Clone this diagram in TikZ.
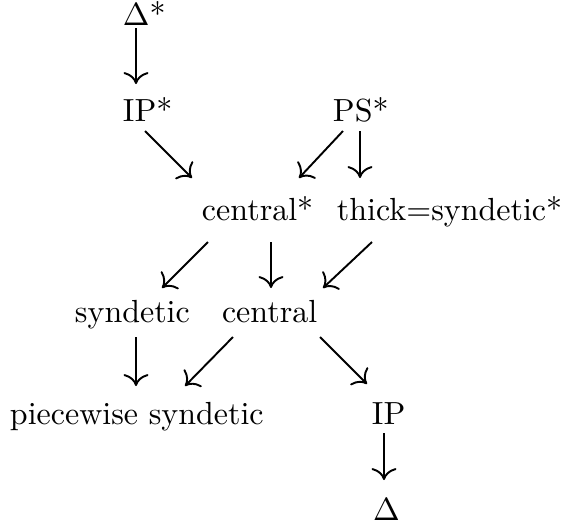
\documentclass[tikz,border=0pt]{standalone}
\usetikzlibrary{calc,cd}
\begin{document}
\begin{tikzpicture}[x=0.3125pt,y=-0.3125pt,
  lbl/.style={anchor=base west,inner sep=0pt,outer sep=0pt},
  arr/.style={-{cm to},line width=0.6pt}]
\useasboundingbox (0,0) rectangle (561,523);
% labels, placed by their baseline
\node[lbl] (dstar)  at (123,25)  {$\Delta$*};
\node[lbl] (ipstar) at (123,121) {IP*};
\node[lbl] (psstar) at (333,121) {PS*};
\node[lbl] (cstar)  at (202,220) {central*};
\node[lbl] (thick)  at (337,220) {thick=syndetic*};
\node[lbl] (synd)   at (75,322)  {syndetic};
\node[lbl] (cent)   at (222,322) {central};
\node[lbl] (pws)    at (10,424)  {piecewise syndetic};
\node[lbl] (ip)     at (372,424) {IP};
\node[lbl] (delta)  at (373,520) {$\Delta$};
% implications
\draw[arr] ($(dstar.base west)+(13,3)$)   -- ($(ipstar.base west)+(13,-37)$);
\draw[arr] ($(ipstar.base west)+(22,10)$) -- ($(cstar.base west)+(-10,-42)$);
\draw[arr] ($(psstar.base west)+(10,10)$) -- ($(cstar.base west)+(97,-42)$);
\draw[arr] ($(psstar.base west)+(27,10)$) -- ($(thick.base west)+(23,-42)$);
\draw[arr] ($(cstar.base west)+(6,22)$)   -- ($(synd.base west)+(87,-34)$);
\draw[arr] ($(cstar.base west)+(69,22)$)  -- ($(cent.base west)+(49,-34)$);
\draw[arr] ($(thick.base west)+(35,22)$)  -- ($(cent.base west)+(101,-34)$);
\draw[arr] ($(synd.base west)+(61,15)$)   -- ($(pws.base west)+(126,-38)$);
\draw[arr] ($(cent.base west)+(11,15)$)   -- ($(pws.base west)+(175,-38)$);
\draw[arr] ($(cent.base west)+(98,15)$)   -- ($(ip.base west)+(-5,-40)$);
\draw[arr] ($(ip.base west)+(12,9)$)      -- ($(delta.base west)+(11,-40)$);
\end{tikzpicture}
\end{document}
